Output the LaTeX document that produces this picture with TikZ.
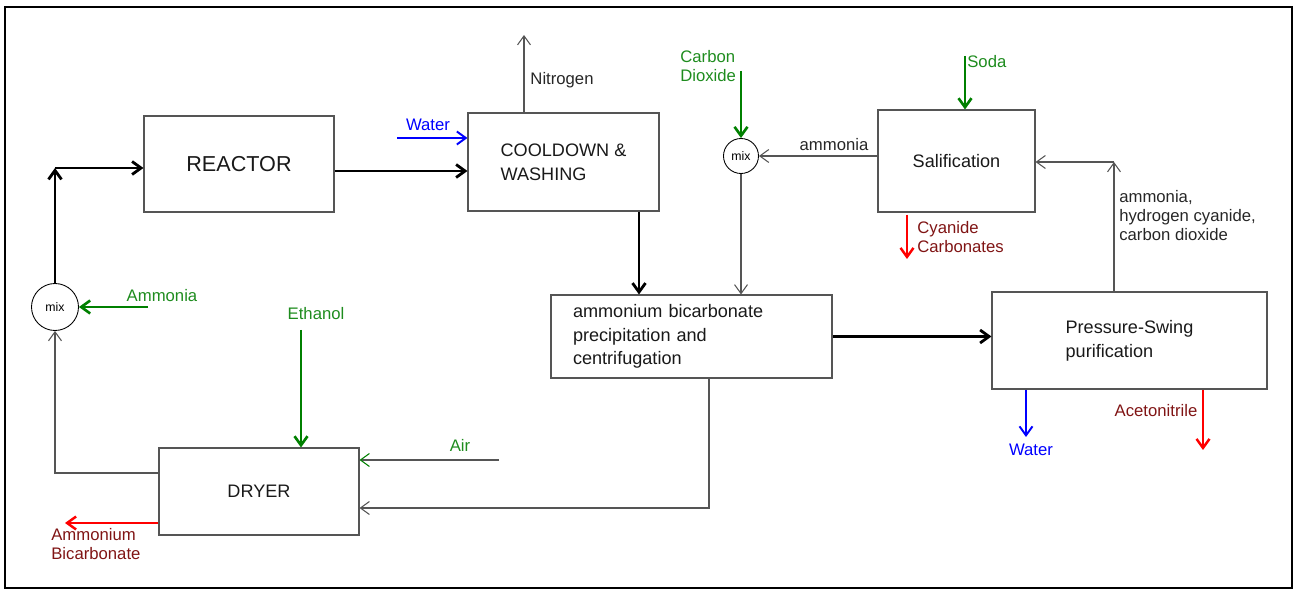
\documentclass[tikz,border=0pt]{standalone}
\usepackage{fontspec}
\setmainfont{Liberation Sans}
\usetikzlibrary{arrows.meta}
\definecolor{flowgreen}{RGB}{0,128,0}
\definecolor{labelgreen}{RGB}{30,140,30}
\definecolor{flowblue}{RGB}{0,0,255}
\definecolor{flowred}{RGB}{255,0,0}
\definecolor{darkred}{RGB}{128,20,20}
\definecolor{linegray}{RGB}{85,85,85}

\begin{document}
\begin{tikzpicture}[x=0.2mm,y=-0.2mm,
    >={Straight Barb[length=1.8mm,width=2.6mm]},
    unit/.style={draw=linegray,line width=0.6pt,align=left,text=black!90,
      font=\fontsize{10.3}{13.5}\selectfont},
    mixer/.style={circle,draw=black,line width=0.5pt,inner sep=0pt,
      font=\fontsize{7}{8}\selectfont},
    lbl/.style={font=\fontsize{9.5}{10.8}\selectfont,align=left,inner sep=0pt},
    main/.style={line width=1.6pt},
    aux/.style={draw=linegray,line width=0.6pt},
    gfeed/.style={draw=flowgreen,line width=1.5pt},
    bfeed/.style={draw=flowblue,line width=1.1pt},
    rout/.style={draw=flowred,line width=1.4pt}]
  \useasboundingbox (0,0) rectangle (1296,590);
  \draw[line width=1.1pt] (5,7) rectangle (1292,588);

  \node[unit,minimum width=38mm,minimum height=19.2mm,
    font=\fontsize{12.3}{14}\selectfont] (reactor) at (239,164) {REACTOR};
  \node[unit,minimum width=38.2mm,minimum height=19.6mm] (cool) at (563.5,162)
    {COOLDOWN \&\\WASHING};
  \node[unit,minimum width=31.4mm,minimum height=20.4mm] (salif) at (956.5,161)
    {Salification};
  \node[unit,minimum width=56.2mm,minimum height=16.6mm,text width=47.4mm,
    inner xsep=0pt] (precip) at (691.5,336.5)
    {ammonium bicarbonate\\precipitation and\\centrifugation};
  \node[unit,minimum width=55mm,minimum height=19.4mm] (psw) at (1129.5,340.5)
    {Pressure-Swing\\purification};
  \node[unit,minimum width=40mm,minimum height=17.4mm] (dryer) at (259,491.5)
    {DRYER};
  \node[mixer,minimum size=9.4mm] (mix1) at (55,307) {mix};
  \node[mixer,minimum size=7mm] (mix2) at (741,156) {mix};

  \coordinate (feed) at (55,168);
  \coordinate (water1) at (397,138);
  \coordinate (nitro) at (524,35);
  \coordinate (co2) at (741,71);
  \coordinate (soda) at (965,56);
  \coordinate (cyan) at (907,259);
  \coordinate (ret) at (1114,162);
  \coordinate (water2) at (1026,437);
  \coordinate (aceto) at (1203,450);
  \coordinate (solid) at (709,508);
  \coordinate (air) at (499,460);
  \coordinate (eth) at (301,330);
  \coordinate (recyc) at (55,473);
  \coordinate (nh3) at (148,307);
  \coordinate (prod) at (65,523);

  \draw[main,->] (mix1) -- (feed);
  \draw[main,->] (feed) -- (feed -| reactor.west);
  \draw[main,->] (reactor.east |- 0,171) -- (cool.west |- 0,171);
  \draw[bfeed,->] (water1) -- (water1 -| cool.west);
  \draw[aux,->] (nitro |- cool.north) -- (nitro);
  \draw[main,->] (cool.south -| 639,0) -- (precip.north -| 639,0);
  \draw[gfeed,->] (co2) -- (mix2.north);
  \draw[aux,->] (salif.west |- mix2) -- (mix2.east);
  \draw[aux,->] (mix2.south) -- (mix2 |- precip.north);
  \draw[gfeed,->] (soda) -- (soda |- salif.north);
  \draw[rout,->] ([yshift=-0.4mm]cyan |- salif.south) -- (cyan);
  \draw[aux,->] (ret |- psw.north) -- (ret);
  \draw[aux,->] (ret) -- (ret -| salif.east);
  \draw[main,->] (precip.east) -- (precip.east -| psw.west);
  \draw[bfeed,->] (water2 |- psw.south) -- (water2);
  \draw[rout,->] (aceto |- psw.south) -- (aceto);
  \draw[aux,->] (solid |- precip.south) -- (solid) -- (solid -| dryer.east);
  \draw[aux,-{Straight Barb[length=1.8mm,width=2.6mm,color=flowgreen]}]
    (air) -- (air -| dryer.east);
  \draw[gfeed,->] (eth) -- (eth |- dryer.north);
  \draw[aux,->] (recyc -| dryer.west) -- (recyc) -- (mix1.south);
  \draw[gfeed,->] (nh3) -- (mix1.east);
  \draw[rout,->] (prod -| dryer.west) -- (prod);

  \node[lbl,text=flowblue] (water1lbl) at (428,125) {Water};
  \node[lbl,text=black!85] (nitrolbl) at (562,80) {Nitrogen};
  \node[lbl,text=labelgreen,anchor=west] (co2lbl) at (680,66) {Carbon\\Dioxide};
  \node[lbl,text=black!85] (nh3lbl2) at (834,145) {ammonia};
  \node[lbl,text=labelgreen,anchor=west] (sodalbl) at (967,62) {Soda};
  \node[lbl,text=darkred,anchor=west] (cyanlbl) at (917,237) {Cyanide\\Carbonates};
  \node[lbl,text=black!85,anchor=west] (retlbl) at (1119,216)
    {ammonia,\\hydrogen cyanide,\\carbon dioxide};
  \node[lbl,text=flowblue] (water2lbl) at (1031,450) {Water};
  \node[lbl,text=darkred] (acetolbl) at (1156,411) {Acetonitrile};
  \node[lbl,text=labelgreen] (airlbl) at (460,445) {Air};
  \node[lbl,text=labelgreen] (ethlbl) at (316,314) {Ethanol};
  \node[lbl,text=labelgreen] (nh3lbl) at (162,296) {Ammonia};
  \node[lbl,text=darkred,anchor=west] (prodlbl) at (51,544) {Ammonium\\Bicarbonate};
\end{tikzpicture}
\end{document}
